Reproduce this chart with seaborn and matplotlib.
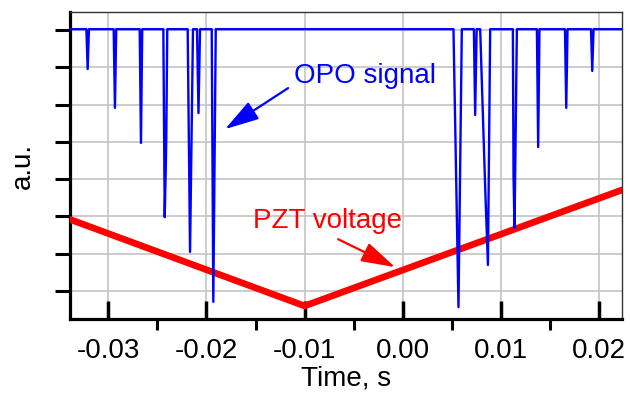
import matplotlib
matplotlib.use("Agg")
import matplotlib.pyplot as plt
import seaborn as sns
import pandas as pd
from matplotlib.ticker import MultipleLocator

# ---- data ----
# OPO signal trace: baseline with resonance dips (time in s, level in a.u.)
opo_time = [-0.0339,
            -0.03223, -0.03210, -0.03197,
            -0.02945, -0.02932, -0.02919,
            -0.02680, -0.02667, -0.02654,
            -0.02439, -0.02425, -0.02415, -0.02409, -0.02399,
            -0.02191, -0.02167, -0.02137,
            -0.02096, -0.02081, -0.02065,
            -0.01946, -0.01930, -0.01905,
            0.00517, 0.00568, 0.00602,
            0.00725, 0.00738, 0.00753,
            0.00789, 0.00840, 0.00868, 0.00891,
            0.01122, 0.01129, 0.01139, 0.01163,
            0.01367, 0.01380, 0.01393,
            0.01653, 0.01666, 0.01679,
            0.01918, 0.01931, 0.01944,
            0.02234]
opo_level = [7.02,
             7.02, 5.95, 7.02,
             7.02, 4.91, 7.02,
             7.02, 3.97, 7.02,
             7.02, 1.98, 3.20, 4.10, 7.02,
             7.02, 1.05, 7.02,
             7.02, 4.77, 7.02,
             7.02, -0.29, 7.02,
             7.02, -0.43, 7.02,
             7.02, 4.72, 7.02,
             7.02, 2.79, 0.70, 7.02,
             7.02, 3.06, 1.69, 7.02,
             7.02, 3.86, 7.02,
             7.02, 4.91, 7.02,
             7.02, 5.90, 7.02,
             7.02]

# PZT voltage ramp
pzt_time = [-0.0339, -0.0100, 0.02234]
pzt_level = [1.92, -0.40, 2.71]

x_major = [-0.03, -0.02, -0.01, 0.00, 0.01, 0.02]
x_labels = ["-0.03", "-0.02", "-0.01", "0.00", "0.01", "0.02"]
y_ticks = [0, 1, 2, 3, 4, 5, 6, 7]

opo_df = pd.DataFrame({"Time": opo_time, "Level": opo_level})
pzt_df = pd.DataFrame({"Time": pzt_time, "Level": pzt_level})

# ---- style ----
sns.set_theme(style="white")
plt.rcParams["font.family"] = ["Liberation Sans", "DejaVu Sans"]

fig = plt.figure(figsize=(6.3, 3.94), dpi=100)
ax = fig.add_axes([70 / 630, 1 - 319 / 394, (622 - 70) / 630, (319 - 12) / 394])

ax.grid(True, which="major", color="#c4c4c4", linewidth=1.2)
ax.set_axisbelow(True)

sns.lineplot(data=pzt_df, x="Time", y="Level", color="#ff0000", linewidth=4.8,
             estimator=None, sort=False, ax=ax, zorder=3)
sns.lineplot(data=opo_df, x="Time", y="Level", color="#0000ff", linewidth=1.7,
             estimator=None, sort=False, ax=ax, zorder=4)

ax.set_xlim(-0.0339, 0.02234)
ax.set_ylim(-0.75, 7.48)

ax.set_xticks(x_major)
ax.set_xticklabels(x_labels)
ax.xaxis.set_minor_locator(MultipleLocator(0.005))
ax.set_yticks(y_ticks)
ax.set_yticklabels([])

ax.tick_params(axis="x", which="major", direction="in", length=13, width=2.5,
               color="black", labelsize=20, pad=14, labelcolor="black")
ax.tick_params(axis="x", which="minor", direction="out", length=8, width=2.2,
               color="black")
ax.tick_params(axis="y", which="major", direction="out", length=11, width=2.2,
               color="black", left=True)
ax.tick_params(axis="x", which="major", bottom=True)
ax.tick_params(axis="x", which="minor", bottom=True)

for side in ["left", "bottom"]:
    ax.spines[side].set_color("black")
    ax.spines[side].set_linewidth(2.3)
for side in ["top", "right"]:
    ax.spines[side].set_color("#333333")
    ax.spines[side].set_linewidth(1.0)
    ax.spines[side].set_visible(True)

ax.set_xlabel("Time, s", fontsize=20, color="black", labelpad=0.5)
ax.set_ylabel("a.u.", fontsize=20, color="black", labelpad=10)

# annotations
arrow_style = "-|>,head_length=0.75,head_width=0.22"
ax.annotate("", xy=(-0.01810, 4.34), xytext=(-0.01168, 5.44),
            arrowprops=dict(arrowstyle=arrow_style, color="#0000ff", lw=1.6,
                            mutation_scale=28, shrinkA=0, shrinkB=0),
            zorder=6)
ax.text(-0.00383, 5.57, "OPO signal", color="#0000ff", fontsize=20,
        ha="center", va="baseline", zorder=6)

ax.annotate("", xy=(-0.00077, 0.64), xytext=(-0.00658, 1.39),
            arrowprops=dict(arrowstyle=arrow_style, color="#ff0000", lw=1.6,
                            mutation_scale=28, shrinkA=0, shrinkB=0),
            zorder=6)
ax.text(-0.00767, 1.69, "PZT voltage", color="#ff0000", fontsize=20,
        ha="center", va="baseline", zorder=6)

fig.savefig("out.png", dpi=100)
